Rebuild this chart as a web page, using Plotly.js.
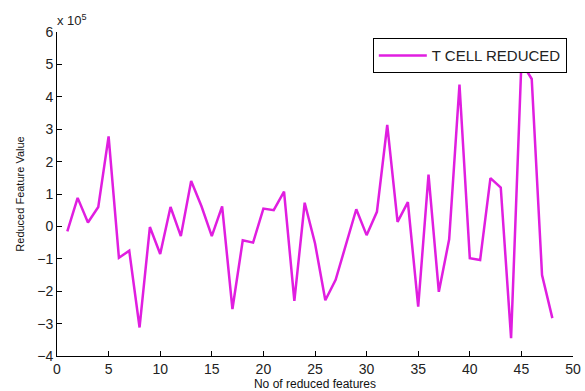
<!DOCTYPE html>
<html>
<head>
<meta charset="utf-8">
<script src="https://cdn.plot.ly/plotly-3.0.1.min.js"></script>
<style>html,body{margin:0;padding:0;background:#fff;}#chart{width:585px;height:391px;}</style>
</head>
<body>
<div id="chart"></div>
<script>
// Feature index (1..48)
const featureIndex = [1,2,3,4,5,6,7,8,9,10,11,12,13,14,15,16,17,18,19,20,21,22,23,24,25,26,27,28,29,30,31,32,33,34,35,36,37,38,39,40,41,42,43,44,45,46,47,48];
// Reduced feature values, in units of 10^5
const valuesE5 = [-0.15,0.88,0.12,0.6,2.78,-0.97,-0.75,-3.12,-0.02,-0.85,0.6,-0.3,1.4,0.62,-0.3,0.62,-2.55,-0.43,-0.5,0.55,0.5,1.07,-2.3,0.73,-0.52,-2.28,-1.65,-0.55,0.53,-0.27,0.45,3.13,0.14,0.75,-2.48,1.6,-2.02,-0.4,4.38,-0.98,-1.04,1.49,1.2,-3.45,5.07,4.55,-1.5,-2.83];
const seriesName = "T CELL REDUCED";
const xTickVals = [0,5,10,15,20,25,30,35,40,45,50];
const yTickVals = [-4,-3,-2,-1,0,1,2,3,4,5,6];

const trace = {
  x: featureIndex, y: valuesE5, type: 'scatter', mode: 'lines', name: seriesName,
  line: {color: '#e01ee0', width: 2.5}
};
const font = {family: 'Liberation Sans, Arial, sans-serif', color: '#222'};
const layout = {
  width: 585, height: 391,
  margin: {l: 57, r: 12, t: 32, b: 35},
  paper_bgcolor: '#fff', plot_bgcolor: '#fff',
  showlegend: true,
  font: font,
  xaxis: {
    range: [0, 50], tickvals: xTickVals, ticks: 'inside', ticklen: 5, tickcolor: '#000',
    showline: true, linecolor: '#000', linewidth: 1, showgrid: false, zeroline: false,
    tickfont: {size: 14, family: font.family, color: '#222'},
    title: {text: 'No of reduced features', font: {size: 12, family: font.family, color: '#111'}, standoff: 3}
  },
  yaxis: {
    range: [-4, 6], tickvals: yTickVals, ticks: 'inside', ticklen: 5, tickcolor: '#000',
    showline: true, linecolor: '#000', linewidth: 1, showgrid: false, zeroline: false,
    tickfont: {size: 14, family: font.family, color: '#222'},
    title: {text: 'Reduced Feature Value', font: {size: 11, family: font.family, color: '#111'}, standoff: 10}
  },
  legend: {
    x: 0.988, y: 0.981, xanchor: 'right', yanchor: 'top',
    bordercolor: '#000', borderwidth: 1, bgcolor: '#fff',
    itemwidth: 48,
    font: {size: 15, family: font.family, color: '#222'}
  },
  annotations: [{
    xref: 'paper', yref: 'paper', x: 0, y: 1, xanchor: 'left', yanchor: 'bottom',
    xshift: -2, yshift: 2,
    text: 'x 10<sup>5</sup>', showarrow: false, font: {size: 13, family: font.family, color: '#222'}
  }]
};
Plotly.newPlot('chart', [trace], layout, {displayModeBar: false, staticPlot: true});
</script>
</body>
</html>
